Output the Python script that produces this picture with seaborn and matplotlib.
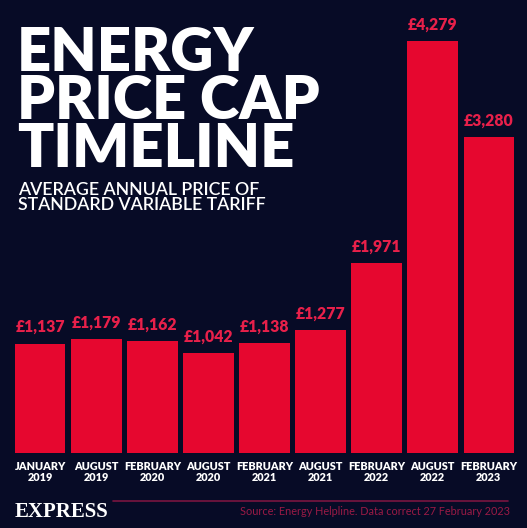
import pandas as pd
import seaborn as sns
import matplotlib.pyplot as plt

# price cap values
periods = ['JANUARY\n2019', 'AUGUST\n2019', 'FEBRUARY\n2020', 'AUGUST\n2020',
           'FEBRUARY\n2021', 'AUGUST\n2021', 'FEBRUARY\n2022', 'AUGUST\n2022',
           'FEBRUARY\n2023']
prices = [1137, 1179, 1162, 1042, 1138, 1277, 1971, 4279, 3280]

bg = '#070b26'
red = '#e6072f'
label_red = '#e8204a'

df = pd.DataFrame({'period': periods, 'price': prices})

sns.set_style('dark')
plt.rcParams['font.family'] = ['Lato', 'DejaVu Sans']

fig = plt.figure(figsize=(5.27, 5.28), dpi=100, facecolor=bg)
ax = fig.add_axes([15 / 527, 1 - 453 / 528, 499 / 527, 423 / 528])
ax.set_facecolor(bg)

sns.barplot(data=df, x='period', y='price', color=red, width=0.9,
            saturation=1, linewidth=0, ax=ax)

ax.set_xlim(-0.45, len(periods) - 0.55)
ax.set_ylim(0, 4393)
for s in ax.spines.values():
    s.set_visible(False)
ax.grid(False)
ax.set_yticks([])
ax.set_xlabel('')
ax.set_ylabel('')
ax.tick_params(axis='x', length=0, pad=6, colors='white')
for t in ax.get_xticklabels():
    t.set_fontsize(7.8)
    t.set_fontweight('heavy')
    t.set_linespacing(1.0)

for i, v in enumerate(prices):
    ax.annotate(f'£{v:,}', (i, v), xytext=(0, 6), textcoords='offset points',
                ha='center', va='bottom', color=label_red, fontsize=11.3,
                fontweight='heavy')

# headline, one text block so the tight lines don't collide
# (va='baseline' on a multi-line text pins the last line)
fig.text(17 / 527, 1 - 167 / 528, 'ENERGY\nPRICE CAP\nTIMELINE', color='white',
         fontsize=43, fontweight='heavy', ha='left', va='baseline',
         linespacing=0.84)
fig.text(18 / 527, 1 - 210 / 528,
         'AVERAGE ANNUAL PRICE OF\nSTANDARD VARIABLE TARIFF', color='white',
         fontsize=12.8, fontweight='semibold', ha='left', va='baseline',
         linespacing=0.95)

# footer
fig.text(15 / 527, 1 - 517 / 528, 'EXPRESS', color='white', fontsize=15,
         fontweight='bold', family='Liberation Serif', ha='left',
         va='baseline')
fig.add_artist(plt.Line2D([113 / 527, 508 / 527], [1 - 501 / 528, 1 - 501 / 528],
                          color='#7a1540', lw=1.2))
fig.text(510 / 527, 1 - 515 / 528,
         'Source: Energy Helpline. Data correct 27 February 2023',
         color='#9a1a45', fontsize=7.8, ha='right', va='baseline')

fig.savefig('out.png', dpi=100, facecolor=bg)
